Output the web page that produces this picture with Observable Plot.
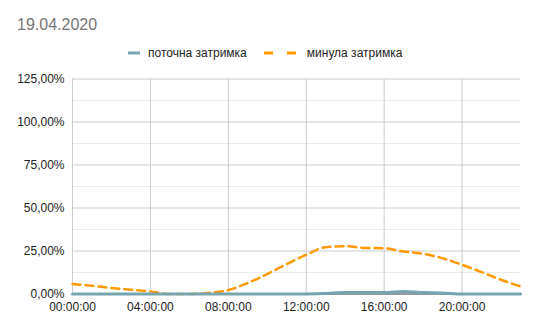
<!DOCTYPE html>
<html>
<head>
<meta charset="utf-8">
<script src="https://cdn.jsdelivr.net/npm/d3@7"></script>
<script src="https://cdn.jsdelivr.net/npm/@observablehq/plot@0.6"></script>
<style>
  html, body { margin: 0; padding: 0; background: #fff; }
  #wrap { position: relative; width: 536px; height: 331px; font-family: "Liberation Sans", Arial, sans-serif; }
  #title { position: absolute; left: 17px; top: 15px; font-size: 16px; color: #757575; line-height: 20px; }
  #legend { position: absolute; left: 128px; top: 46px; font-size: 12px; color: #222; line-height: 14px; display: flex; align-items: center; }
  #legend .item { display: flex; align-items: center; }
  #legend svg { display: block; }
  #chart { position: absolute; left: 0; top: 0; }
</style>
</head>
<body>
<div id="wrap">
  <div id="chart"></div>
  <div id="title">19.04.2020</div>
  <div id="legend"></div>
</div>
<script>
const title = "19.04.2020";
const seriesNames = ["поточна затримка", "минула затримка"];
const seriesColors = ["#76a5af", "#ff9900"];
const hours = [0,1,2,3,4,5,6,7,8,9,10,11,12,13,14,15,16,17,18,19,20,21,22,23];
const current = [0,0,0,0,0,0,0,0,0,0,0,0,0,0.3,0.8,0.8,0.8,1.5,0.8,0.6,0,0,0,0];
const previous = [5.8,4.8,3.5,2.5,1.5,0,0,0.6,2.3,6.4,11.6,17.4,22.8,27.2,27.8,26.8,26.6,24.7,23.4,20.8,17,12.7,8.3,4.4];
const yTicks = [0,25,50,75,100,125];
const yMinor = [12.5,37.5,62.5,87.5,112.5];
const xTicks = [0,4,8,12,16,20];

const data = [];
hours.forEach((h, i) => {
  data.push({hour: h, value: current[i], series: seriesNames[0]});
  data.push({hour: h, value: previous[i], series: seriesNames[1]});
});

const fmtY = d => d.toFixed(2).replace(".", ",") + "%";
const fmtX = d => String(d).padStart(2, "0") + ":00:00";

const chart = Plot.plot({
  width: 536,
  height: 331,
  marginLeft: 72,
  marginRight: 16,
  marginTop: 78.5,
  marginBottom: 37.5,
  style: {fontFamily: "Liberation Sans, Arial, sans-serif", fontSize: "12px", color: "#222", background: "#fff"},
  x: {domain: [0, 23], ticks: xTicks, tickFormat: fmtX, tickSize: 0, tickPadding: 8, label: null},
  y: {domain: [0, 125], ticks: yTicks, tickFormat: fmtY, tickSize: 0, tickPadding: 8, label: null},
  marks: [
    Plot.ruleY(yMinor, {stroke: "#ebebeb", strokeWidth: 1}),
    Plot.ruleY(yTicks.filter(d => d > 0), {stroke: "#cccccc", strokeWidth: 1}),
    Plot.ruleX(xTicks, {stroke: "#cccccc", strokeWidth: 1}),
    Plot.ruleY([0], {stroke: "#333333", strokeWidth: 1}),
    Plot.line(data.filter(d => d.series === seriesNames[1]), {
      x: "hour", y: "value", stroke: seriesColors[1], strokeWidth: 2.5,
      strokeDasharray: "8,5", curve: "monotone-x"
    }),
    Plot.line(data.filter(d => d.series === seriesNames[0]), {
      x: "hour", y: "value", stroke: seriesColors[0], strokeWidth: 3,
      curve: "monotone-x"
    }),
    Plot.axisX({ticks: xTicks, tickFormat: fmtX, tickSize: 0, tickPadding: 8, fill: "#222"}),
    Plot.axisY({ticks: yTicks, tickFormat: fmtY, tickSize: 0, tickPadding: 8, fill: "#222"})
  ]
});
document.getElementById("chart").appendChild(chart);
document.getElementById("title").textContent = title;

// Legend
const legend = document.getElementById("legend");
const ns = "http://www.w3.org/2000/svg";
seriesNames.forEach((name, i) => {
  const item = document.createElement("div");
  item.className = "item";
  if (i > 0) item.style.marginLeft = "17px";
  const sw = document.createElementNS(ns, "svg");
  const w = i === 0 ? 12 : 35;
  sw.setAttribute("width", w);
  sw.setAttribute("height", 4);
  const ln = document.createElementNS(ns, "line");
  ln.setAttribute("x1", 0); ln.setAttribute("x2", w);
  ln.setAttribute("y1", 2); ln.setAttribute("y2", 2);
  ln.setAttribute("stroke", seriesColors[i]);
  ln.setAttribute("stroke-width", 3);
  if (i === 1) ln.setAttribute("stroke-dasharray", "9,14");
  sw.appendChild(ln);
  const t = document.createElement("span");
  t.textContent = name;
  t.style.marginLeft = "8px";
  item.appendChild(sw);
  item.appendChild(t);
  legend.appendChild(item);
});
</script>
</body>
</html>
